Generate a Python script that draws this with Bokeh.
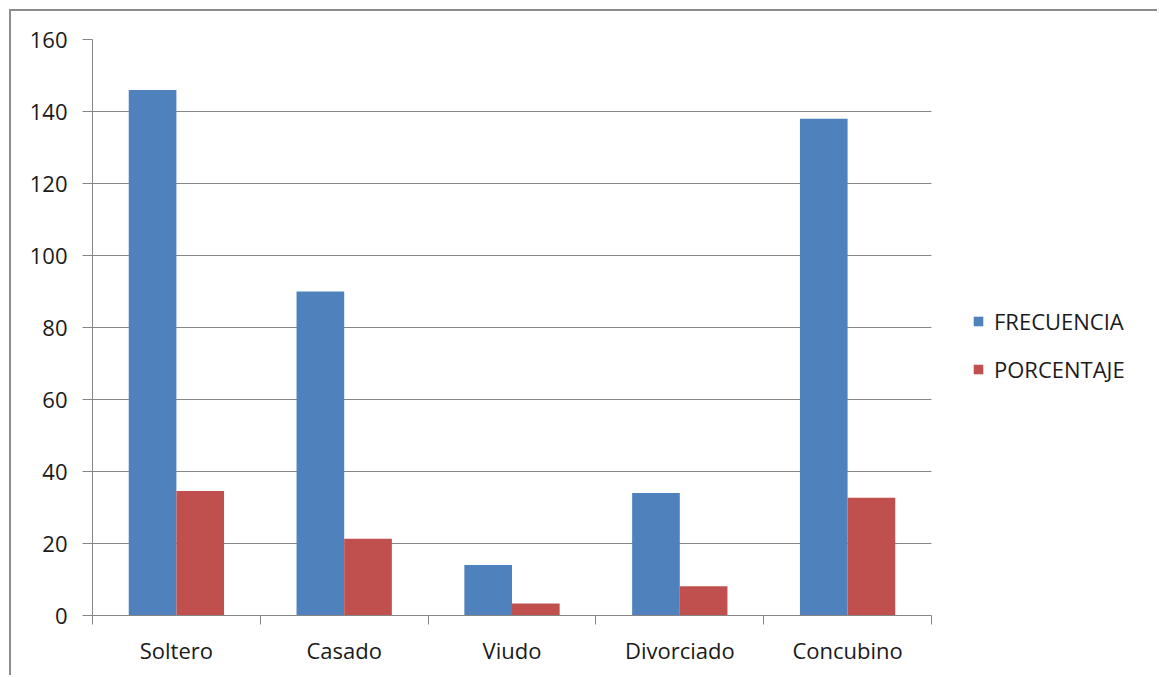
from bokeh.plotting import figure
from bokeh.models import Range1d, FixedTicker, Legend, LegendItem, ColumnDataSource
from bokeh.transform import dodge
from bokeh.embed import file_html
from bokeh.resources import INLINE

categories = ["Soltero", "Casado", "Viudo", "Divorciado", "Concubino"]
frecuencia = [146, 90, 14, 34, 138]
porcentaje = [34.6, 21.3, 3.3, 8.1, 32.7]
y_ticks = [0, 20, 40, 60, 80, 100, 120, 140, 160]
series_names = ["FRECUENCIA", "PORCENTAJE"]

FONT = "Open Sans"
FS = "22px"
TXT = "#1a1a1a"
GRID = "#868686"

n = len(categories)
positions = list(range(n))
src = ColumnDataSource(dict(x=positions, frec=frecuencia, porc=porcentaje))

# frame extends to the right edge so the legend can sit beside the bars
x_end = (n - 0.5) + 228 / 167.8

p = figure(width=1148, height=666,
           x_range=Range1d(-0.5, x_end),
           y_range=Range1d(0, 160),
           output_backend="svg", toolbar_location=None,
           min_border_left=81, min_border_right=0,
           min_border_top=28, min_border_bottom=62)
p.styles = {"margin-left": "9px", "margin-top": "9px",
            "border-top": "2px solid #8c8c8c", "border-left": "2px solid #8c8c8c"}
p.outline_line_color = None
p.background_fill_color = "white"
p.border_fill_color = "white"

r1 = p.vbar(x=dodge("x", -0.142), top="frec", width=0.284, source=src,
            fill_color="#4F81BD", line_color=None)
r2 = p.vbar(x=dodge("x", 0.142), top="porc", width=0.284, source=src,
            fill_color="#C0504D", line_color=None)

# x axis
xa = p.xaxis[0]
xa.bounds = (-0.5, n - 0.5)
xa.ticker = FixedTicker(ticks=positions,
                        minor_ticks=[i - 0.5 for i in range(n + 1)])
xa.major_label_overrides = {i: c for i, c in enumerate(categories)}
xa.major_tick_line_color = None
xa.major_tick_out = 0
xa.major_tick_in = 0
xa.minor_tick_line_color = GRID
xa.minor_tick_out = 9
xa.minor_tick_in = 0
xa.axis_line_color = GRID
xa.major_label_text_font = FONT
xa.major_label_text_font_size = FS
xa.major_label_text_color = TXT
xa.major_label_standoff = 10

# y axis
ya = p.yaxis[0]
ya.ticker = FixedTicker(ticks=y_ticks)
ya.axis_line_color = GRID
ya.major_tick_line_color = GRID
ya.major_tick_out = 10
ya.major_tick_in = 0
ya.minor_tick_line_color = None
ya.major_label_text_font = FONT
ya.major_label_text_font_size = FS
ya.major_label_text_color = TXT
ya.major_label_standoff = 15

p.xgrid.grid_line_color = None
p.ygrid.grid_line_color = GRID
p.ygrid.ticker = FixedTicker(ticks=y_ticks)
p.ygrid.cross_bounds = (-0.5, n - 0.5)

legend = Legend(items=[LegendItem(label=series_names[0], renderers=[r1]),
                       LegendItem(label=series_names[1], renderers=[r2])],
                location=(880, 231))
legend.border_line_color = None
legend.background_fill_alpha = 0
legend.padding = 10
legend.margin = 0
legend.glyph_width = 12
legend.glyph_height = 12
legend.label_height = 20
legend.spacing = 18
legend.label_standoff = 10
legend.label_text_font = FONT
legend.label_text_font_size = FS
legend.label_text_color = TXT
p.add_layout(legend, "center")

open("out.html", "w").write(file_html(p, INLINE))
